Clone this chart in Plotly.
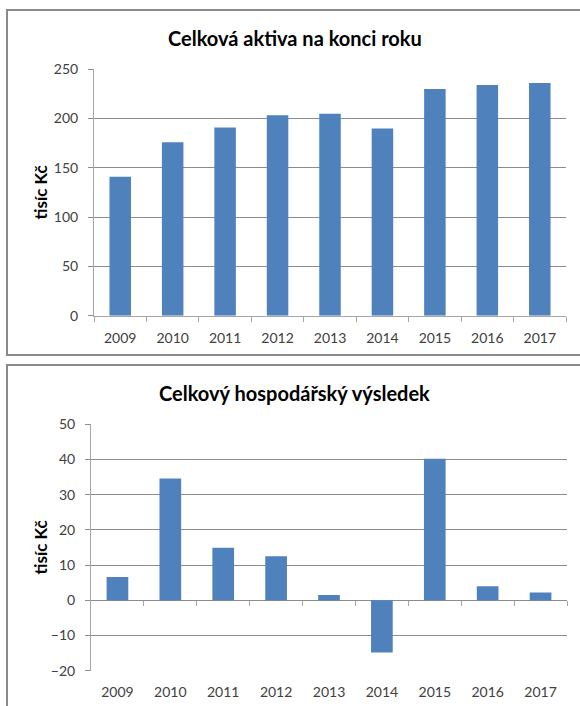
import plotly.graph_objects as go

years = ["2009", "2010", "2011", "2012", "2013", "2014", "2015", "2016", "2017"]
assets = [141, 176, 191, 203.5, 205, 190, 230, 234, 236]
result = [6.6, 34.6, 14.9, 12.5, 1.5, -14.8, 40.2, 4.0, 2.2]

title_top = "Celková aktiva na konci roku"
title_bottom = "Celkový hospodářský výsledek"
y_title = "tisíc Kč"

W, H = 580, 706
BAR = "#4F81BD"
GRID = "#8C8C8C"
AX = "#A6A6A6"
TXT = "#404040"
FONT = "Lato"

def px(x):
    return x / W

def py(y):
    return 1 - y / H

fig = go.Figure()
fig.add_trace(go.Bar(x=years, y=assets, marker=dict(color=BAR, line=dict(width=0)),
                     xaxis="x", yaxis="y", showlegend=False))
fig.add_trace(go.Bar(x=years, y=result, marker=dict(color=BAR, line=dict(width=0)),
                     xaxis="x2", yaxis="y2", showlegend=False))
# helper trace so the zero-line tick axis of the bottom chart is drawn
fig.add_trace(go.Scatter(x=[0], y=[0], mode="markers", marker=dict(opacity=0),
                         hoverinfo="skip", showlegend=False, xaxis="x3", yaxis="y2"))

tickfont = dict(family=FONT, size=14, color=TXT)

top_plot = (94, 566, 69.3, 315.7)   # left, right, top, bottom in px
bot_plot = (91, 567, 424.3, 670.7)

fig.update_layout(
    width=W, height=H, autosize=False,
    margin=dict(l=0, r=0, t=0, b=0, pad=0, autoexpand=False),
    paper_bgcolor="white", plot_bgcolor="white",
    bargap=0.59,
    font=dict(family=FONT, color=TXT),
    xaxis=dict(domain=[px(top_plot[0]), px(top_plot[1])], anchor="y",
               type="category", tickson="boundaries", ticks="outside", ticklen=5,
               tickcolor=AX, showline=True, linecolor=AX, linewidth=1,
               tickfont=tickfont, showgrid=False, ticklabelstandoff=9),
    yaxis=dict(domain=[py(top_plot[3]), py(top_plot[2])], anchor="x",
               range=[0, 250], tickvals=[0, 50, 100, 150, 200, 250],
               ticks="outside", ticklen=5, tickcolor=GRID,
               showline=True, linecolor=AX, linewidth=1,
               showgrid=True, gridcolor=GRID, gridwidth=1, zeroline=False,
               tickfont=tickfont, ticklabelstandoff=7),
    xaxis2=dict(domain=[px(bot_plot[0]), px(bot_plot[1])], anchor="y2",
                type="category", ticks="", showline=False,
                tickfont=tickfont, showgrid=False, ticklabelstandoff=11),
    yaxis2=dict(domain=[py(bot_plot[3]), py(bot_plot[2])], anchor="x2",
                range=[-20, 50], tickvals=[-20, -10, 0, 10, 20, 30, 40, 50],
                ticks="outside", ticklen=5, tickcolor=GRID,
                showline=True, linecolor=AX, linewidth=1,
                showgrid=True, gridcolor=GRID, gridwidth=1,
                zeroline=True, zerolinecolor=GRID, zerolinewidth=1,
                tickfont=tickfont, ticklabelstandoff=7),
    xaxis3=dict(overlaying="x2", anchor="free",
                position=py(bot_plot[3]) + (py(bot_plot[2]) - py(bot_plot[3])) * 20 / 70,
                range=[-0.5, 8.5], tickvals=[0.5, 1.5, 2.5, 3.5, 4.5, 5.5, 6.5, 7.5, 8.5],
                ticks="outside", ticklen=5, tickcolor=AX, showticklabels=False,
                showline=False, showgrid=False, zeroline=False),
)

fig.add_annotation(text="<b>" + title_top + "</b>", xref="paper", yref="paper",
                   x=px(294.5), y=py(38), xanchor="center", yanchor="middle",
                   showarrow=False, font=dict(family=FONT, size=20, color="#000000"))
fig.add_annotation(text="<b>" + title_bottom + "</b>", xref="paper", yref="paper",
                   x=px(294.5), y=py(393), xanchor="center", yanchor="middle",
                   showarrow=False, font=dict(family=FONT, size=20, color="#000000"))
for yc in [(top_plot[2] + top_plot[3]) / 2, (bot_plot[2] + bot_plot[3]) / 2]:
    fig.add_annotation(text="<b>" + y_title + "</b>", xref="paper", yref="paper",
                       x=px(40), y=py(yc), xanchor="center", yanchor="middle",
                       showarrow=False, textangle=-90,
                       font=dict(family=FONT, size=17, color="#000000"))

border = dict(color="#8A8A8A", width=2)
fig.add_shape(type="rect", xref="paper", yref="paper",
              x0=px(7), x1=px(590), y0=py(355), y1=py(10), line=border, layer="below")
fig.add_shape(type="rect", xref="paper", yref="paper",
              x0=px(7), x1=px(590), y0=py(720), y1=py(365), line=border, layer="below")

fig.write_html("out.html", config={"displayModeBar": False, "responsive": False},
               post_script="document.body.style.margin='0';document.body.style.overflow='hidden';")
